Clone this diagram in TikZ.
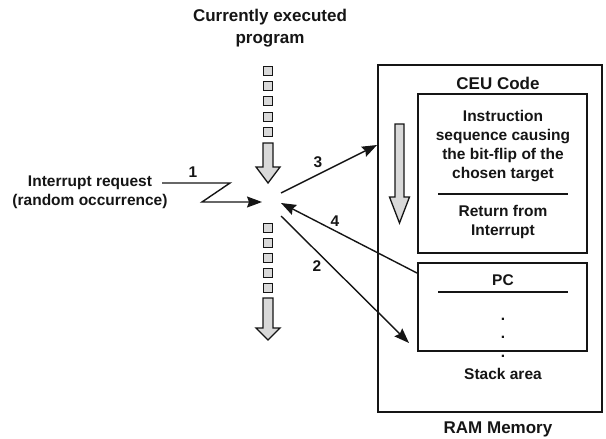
\documentclass[tikz,border=0pt]{standalone}
\usepackage{fontspec}
\setmainfont{Liberation Sans}
\usetikzlibrary{arrows.meta,calc}
\definecolor{blockgray}{HTML}{D9D9D9}
\definecolor{ink}{HTML}{151515}
\tikzset{
  txt/.style={font=\fontsize{15.5}{19}\selectfont\bfseries, text=ink, align=center, inner sep=0pt},
  ttl/.style={font=\fontsize{17}{22}\selectfont\bfseries, text=ink, align=center, inner sep=0pt},
  box/.style={draw=ink, line width=1.9pt, inner sep=0pt},
  sqbox/.style={draw=ink, line width=1.3pt, fill=blockgray, minimum width=8.5pt, minimum height=8.5pt, inner sep=0pt},
  blockarrow/.style={draw=ink, line width=1.3pt, fill=blockgray, line join=miter},
  conn/.style={draw=ink, line width=1.4pt, -{Stealth[length=15pt,width=11pt,inset=2pt]}},
  sep/.style={draw=ink, line width=1.2pt},
}
\begin{document}
\begin{tikzpicture}[x=1pt,y=-1pt]
\useasboundingbox (0,0) rectangle (606,439);
% titles
\node[ttl] (title) at (270,28) {Currently executed\\program};
\node[txt] (irq) at (90,192.5) {Interrupt request\\(random occurrence)};
% square columns
\foreach \i/\y in {1/71,2/86,3/101,4/117,5/132}{
  \node[sqbox] (sqt\i) at (268,\y) {};
}
\foreach \i/\y in {1/228,2/243,3/258,4/273,5/288}{
  \node[sqbox] (sqb\i) at (268,\y) {};
}
% block arrows of program flow
\path[blockarrow] (263,143) -- (273,143) -- (273,167) -- (280,167) -- (268,183) -- (256,167) -- (263,167) -- cycle;
\path[blockarrow] (263,298) -- (273,298) -- (273,328) -- (280,328) -- (268,340) -- (256,328) -- (263,328) -- cycle;
% RAM memory
\node[box, minimum width=224pt, minimum height=347pt] (ram) at (490,238.5) {};
\node[ttl] (ceutitle) at (498,83) {CEU Code};
\node[box, minimum width=169pt, minimum height=159pt] (ceu) at (502.5,173.5) {};
\node[txt] (instr) at (503,146.5) {Instruction\\sequence causing\\the bit-flip of the\\chosen target};
\draw[sep] (438,194) -- (568,194);
\node[txt] (ret) at (503,221.5) {Return from\\Interrupt};
\path[blockarrow] (395,124) -- (404,124) -- (404,197) -- (409.5,197) -- (399.5,223) -- (389.5,197) -- (395,197) -- cycle;
% stack
\node[box, minimum width=169pt, minimum height=88pt] (stack) at (502.5,307) {};
\node[txt] (pc) at (503,280) {PC};
\draw[sep] (438,292) -- (568,292);
\node[txt] (d1) at (503,319) {.};
\node[txt] (d2) at (503,337) {.};
\node[txt] (d3) at (503,356) {.};
\node[txt] (stackarea) at (503,374) {Stack area};
\node[ttl] (ramtitle) at (498,429) {RAM Memory};
% connector coordinates
\coordinate (z0) at (162,183);
\coordinate (z1) at (230,183);
\coordinate (z2) at (202,202);
\coordinate (z3) at (262,202);
\coordinate (s3) at (281,193);
\coordinate (e3) at (ram.west |- 0,145);
\coordinate (s4) at ($(stack.north west)+(0,11)$);
\coordinate (e4) at (281,203);
\coordinate (s2) at (281,216);
\coordinate (e2) at (409,343);
% connectors
\draw[conn] (z0) -- (z1) -- (z2) -- (z3);
\draw[conn] (s3) -- (e3);
\draw[conn] (s4) -- (e4);
\draw[conn] (s2) -- (e2);
% labels
\node[txt] (l1) at (193,172) {1};
\node[txt] (l3) at (318,162) {3};
\node[txt] (l4) at (335,221) {4};
\node[txt] (l2) at (317,266) {2};
\end{tikzpicture}
\end{document}
